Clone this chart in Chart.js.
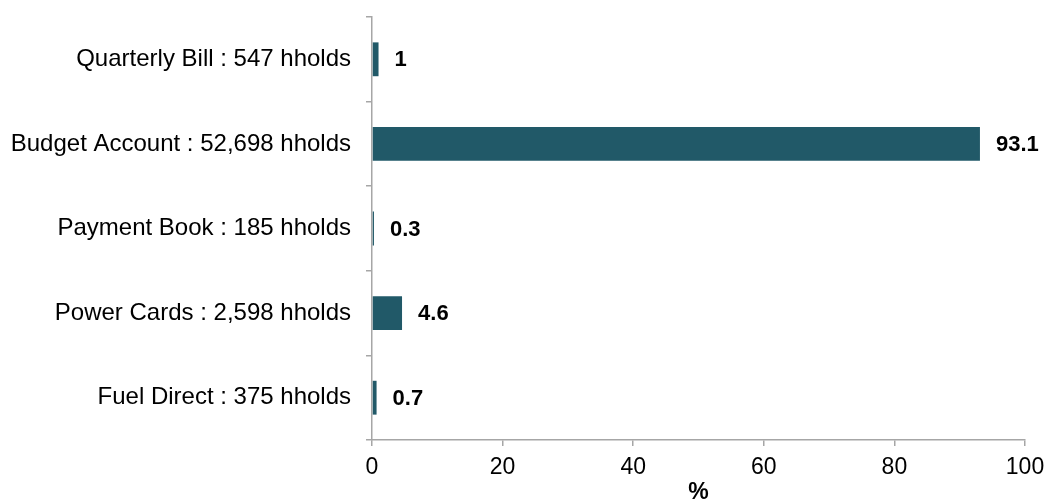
<!DOCTYPE html>
<html lang="en">
<head>
    <meta charset="UTF-8">
    <title>Payment methods</title>
    <script src="https://cdn.jsdelivr.net/npm/chart.js"></script>
    <style>
        body { margin: 0; background: #fff; }
        #wrap { width: 1047px; height: 502px; }
    </style>
</head>
<body>
    <div id="wrap"><canvas id="payChart" width="1047" height="502"></canvas></div>
    <script>
        const categories = [
            'Quarterly Bill : 547 hholds',
            'Budget Account : 52,698 hholds',
            'Payment Book : 185 hholds',
            'Power Cards : 2,598 hholds',
            'Fuel Direct : 375 hholds'
        ];
        const shares = [1, 93.1, 0.3, 4.6, 0.7];
        const xTicks = [0, 20, 40, 60, 80, 100];

        const axisGrey = '#a6a6a6';
        const barColour = '#215968';
        const fontFamily = '"Liberation Sans", Arial, sans-serif';

        // draws the value next to the end of each bar
        const valueLabels = {
            id: 'valueLabels',
            afterDatasetsDraw(chart) {
                const ctx = chart.ctx;
                const meta = chart.getDatasetMeta(0);
                ctx.save();
                ctx.font = 'bold 22px ' + fontFamily;
                ctx.fillStyle = '#000';
                ctx.textAlign = 'left';
                ctx.textBaseline = 'middle';
                meta.data.forEach((bar, i) => {
                    ctx.fillText(String(shares[i]), bar.x + 16, bar.y + 1);
                });
                ctx.restore();
            }
        };

        const ctx = document.getElementById('payChart').getContext('2d');
        new Chart(ctx, {
            type: 'bar',
            data: {
                labels: categories,
                datasets: [{
                    data: shares,
                    backgroundColor: barColour,
                    barPercentage: 0.4,
                    categoryPercentage: 1
                }]
            },
            plugins: [valueLabels],
            options: {
                indexAxis: 'y',
                responsive: false,
                animation: false,
                layout: { padding: { top: 17, right: 22, left: 0, bottom: 0 } },
                plugins: {
                    legend: { display: false },
                    tooltip: { enabled: false }
                },
                scales: {
                    x: {
                        min: 0,
                        max: 100,
                        afterBuildTicks: (axis) => { axis.ticks = xTicks.map(v => ({ value: v })); },
                        afterFit: (axis) => {
                            axis.height = 62;
                            axis.paddingLeft = 0;
                            axis.paddingRight = 0;
                        },
                        grid: { drawOnChartArea: false, drawTicks: true, tickLength: 6, color: axisGrey, lineWidth: 1.5 },
                        border: { color: axisGrey, width: 1.5 },
                        ticks: {
                            color: '#000',
                            padding: 8,
                            font: { family: fontFamily, size: 23 }
                        },
                        title: {
                            display: true,
                            text: '%',
                            color: '#000',
                            padding: { top: 0, bottom: -4 },
                            font: { family: fontFamily, size: 23, weight: 'bold' }
                        }
                    },
                    y: {
                        afterFit: (axis) => {
                            axis.width = 372;
                            axis.paddingTop = 0;
                            axis.paddingBottom = 0;
                        },
                        grid: { drawOnChartArea: false, drawTicks: true, tickLength: 6, color: axisGrey, lineWidth: 1.5, offset: true },
                        border: { color: axisGrey, width: 1.5 },
                        ticks: {
                            color: '#000',
                            padding: 15,
                            font: { family: fontFamily, size: 24 }
                        }
                    }
                }
            }
        });
    </script>
</body>
</html>
